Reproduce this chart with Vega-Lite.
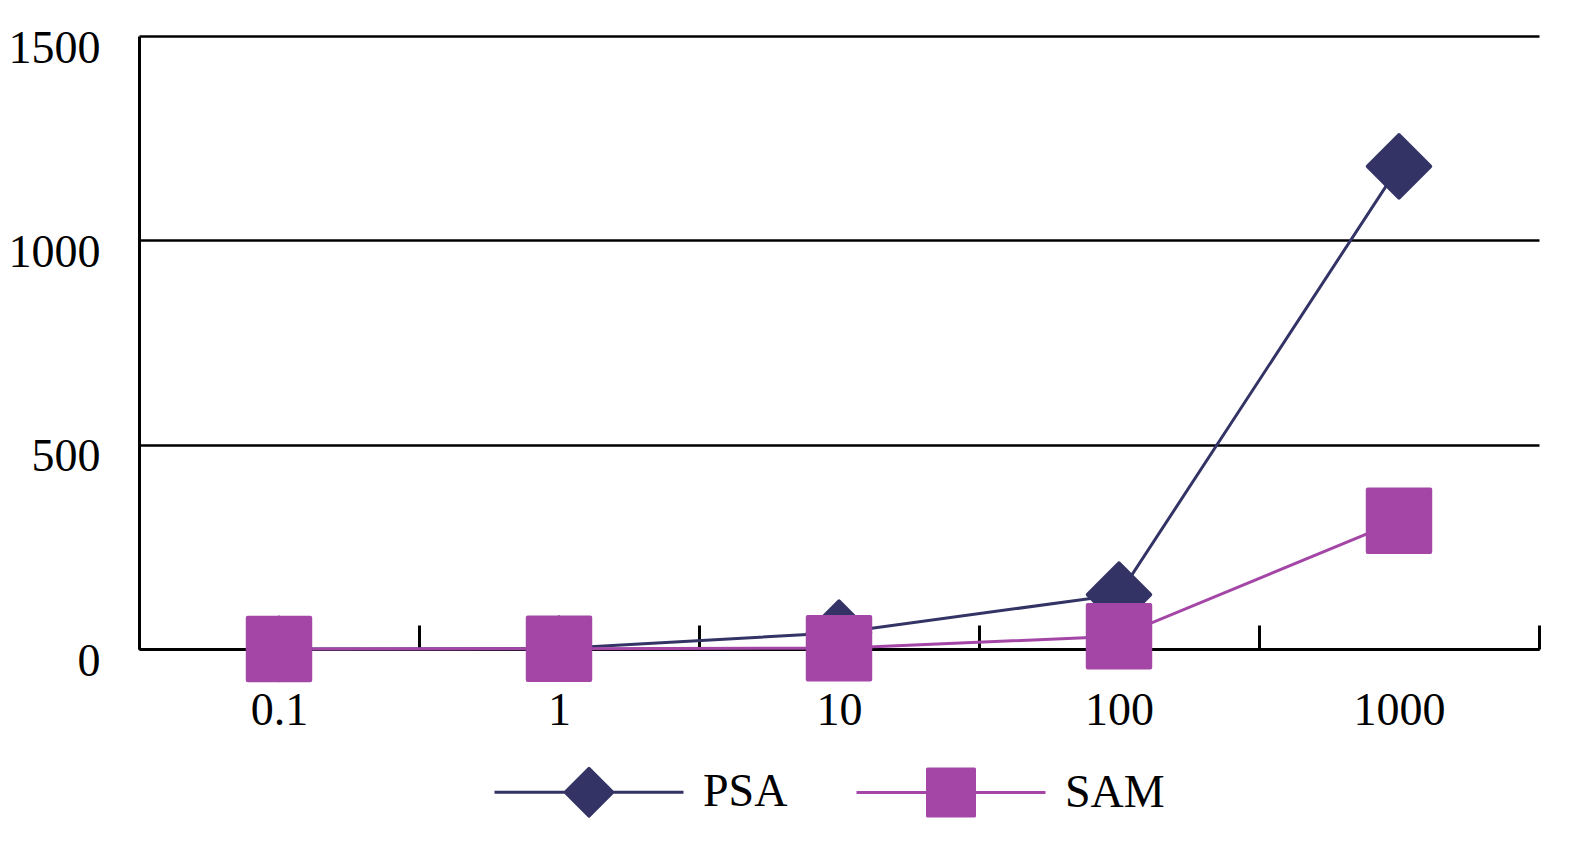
{
  "$schema": "https://vega.github.io/schema/vega-lite/v6.json",
  "width": 1400,
  "height": 613,
  "autosize": "none",
  "padding": {"left": 139, "top": 36, "right": 36, "bottom": 197},
  "background": "white",
  "config": {"view": {"stroke": null}, "font": "Liberation Serif"},
  "data": {
    "values": [
      {"series": "PSA", "conc": "0.1", "value": 0.1},
      {"series": "PSA", "conc": "1", "value": 1},
      {"series": "PSA", "conc": "10", "value": 40},
      {"series": "PSA", "conc": "100", "value": 133},
      {"series": "PSA", "conc": "1000", "value": 1181},
      {"series": "SAM", "conc": "0.1", "value": 0.1},
      {"series": "SAM", "conc": "1", "value": 0.5},
      {"series": "SAM", "conc": "10", "value": 2},
      {"series": "SAM", "conc": "100", "value": 31},
      {"series": "SAM", "conc": "1000", "value": 314}
    ]
  },
  "encoding": {
    "x": {
      "field": "conc",
      "type": "ordinal",
      "sort": ["0.1", "1", "10", "100", "1000"],
      "scale": {"type": "band", "paddingInner": 0, "paddingOuter": 0},
      "axis": {
        "title": null,
        "labelAngle": 0,
        "domainColor": "black",
        "domainWidth": 3,
        "ticks": true,
        "tickColor": "black",
        "tickWidth": 3,
        "tickSize": -24,
        "tickBand": "extent",
        "labelFont": "Liberation Serif",
        "labelFontSize": 46,
        "labelColor": "black",
        "labelBaseline": "top",
        "labelPadding": 63,
        "grid": false
      }
    },
    "y": {
      "field": "value",
      "type": "quantitative",
      "scale": {"domain": [0, 1500], "nice": false},
      "axis": {
        "title": null,
        "values": [0, 500, 1000, 1500],
        "format": "d",
        "ticks": false,
        "domainColor": "black",
        "domainWidth": 3,
        "grid": true,
        "gridColor": "black",
        "gridWidth": 2.5,
        "gridOpacity": 1,
        "labelFont": "Liberation Serif",
        "labelFontSize": 46,
        "labelColor": "black",
        "labelPadding": 39,
        "labelBaseline": "middle",
        "labelOffset": 12,
        "labelFlush": false,
        "encode": {
          "labels": {
            "enter": {
              "dx": {"signal": "datum.value === 0 ? 10 : (datum.value >= 1000 ? -3 : 0)"}
            },
            "update": {
              "dx": {"signal": "datum.value === 0 ? 10 : (datum.value >= 1000 ? -3 : 0)"}
            }
          }
        }
      }
    }
  },
  "layer": [
    {
      "mark": {"type": "line", "strokeWidth": 3},
      "encoding": {
        "color": {
          "field": "series",
          "type": "nominal",
          "scale": {"domain": ["PSA", "SAM"], "range": ["#333366", "#A346A6"]},
          "legend": {
            "orient": "none",
            "legendX": 427,
            "legendY": 733,
            "direction": "horizontal",
            "title": null,
            "labelFont": "Liberation Serif",
            "labelFontSize": 46,
            "labelColor": "black",
            "symbolSize": 400,
            "labelOffset": 91,
            "columnPadding": 67,
            "symbolStrokeWidth": 3,
            "encode": {
              "symbols": {
                "update": {
                  "shape": {"signal": "datum.value === 'PSA' ? 'M-9.45,0H-2.4M2.4,0H9.45M-2.4,0L0,-2.4L2.4,0L0,2.4Z' : 'M-9.45,0H-2.35M2.35,0H9.45M-2.35,-2.35H2.35V2.35H-2.35Z'"},
                  "fill": {"signal": "datum.value === 'PSA' ? '#333366' : '#A346A6'"},
                  "stroke": {"signal": "datum.value === 'PSA' ? '#333366' : '#A346A6'"},
                  "strokeWidth": {"value": 3},
                  "strokeJoin": {"value": "round"},
                  "opacity": {"value": 1},
                  "fillOpacity": {"value": 1},
                  "strokeOpacity": {"value": 1}
                }
              }
            }
          }
        }
      }
    },
    {
      "transform": [{"filter": "datum.series === 'PSA'"}],
      "mark": {"type": "point", "shape": "diamond", "filled": true, "opacity": 1, "size": 3900, "fill": "#333366", "stroke": "#333366", "strokeWidth": 4, "strokeJoin": "round"}
    },
    {
      "transform": [{"filter": "datum.series === 'SAM'"}],
      "mark": {"type": "point", "shape": "square", "filled": true, "opacity": 1, "size": 3900, "fill": "#A346A6", "stroke": "#A346A6", "strokeWidth": 4, "strokeJoin": "round"}
    }
  ]
}
